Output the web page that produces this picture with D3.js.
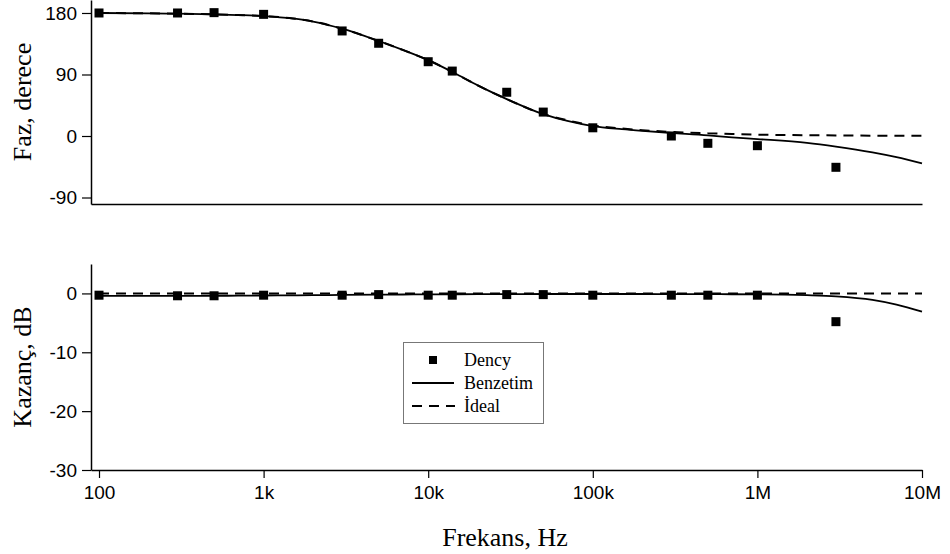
<!DOCTYPE html>
<html><head><meta charset="utf-8">
<script src="https://cdn.jsdelivr.net/npm/d3@7"></script>
<style>body{margin:0;background:#fff}svg{display:block}</style>
</head><body>
<svg id="c" width="950" height="554"></svg>
<script>
// ---- data ----
const deneyFreq  = [100, 300, 500, 1000, 3000, 5000, 10000, 14000, 30000, 50000, 100000, 300000, 500000, 1000000, 3000000];
const deneyPhase = [180, 180, 180.5, 178, 153.7, 135.7, 108.7, 95, 64, 35, 12, 0, -10.7, -14.2, -45.8];
const deneyGain  = [-0.3, -0.4, -0.4, -0.3, -0.3, -0.2, -0.3, -0.3, -0.2, -0.2, -0.3, -0.3, -0.3, -0.3, -4.8];

const simFreq  = [100, 200, 300, 500, 700, 1000, 1500, 2000, 3000, 5000, 7000, 10000, 15000, 20000, 30000, 50000, 70000, 100000, 150000, 200000, 300000, 500000, 700000, 1000000, 2000000, 3000000, 5000000, 7000000, 10000000];
const simPhase = [180, 179.5, 179, 178, 177, 175.5, 172, 167.5, 157, 139, 126, 111, 90, 74, 54, 32, 22, 14.5, 10, 7.5, 4.5, 1, -2, -4.5, -10, -15.5, -24, -31, -40];
const idealPhase = [180, 179.5, 179, 178, 177, 175.5, 172, 167.5, 157, 139, 126, 111, 90, 74, 54, 32, 23, 15.5, 11, 8.5, 6, 4, 3, 2, 1.2, 0.8, 0.5, 0.4, 0.3];
const simGain  = [-0.4, -0.4, -0.4, -0.4, -0.38, -0.35, -0.32, -0.3, -0.25, -0.2, -0.18, -0.15, -0.14, -0.13, -0.12, -0.1, -0.1, -0.1, -0.1, -0.1, -0.12, -0.13, -0.14, -0.15, -0.3, -0.5, -1.1, -1.9, -3.1];
const idealGain = [0, 0, 0, 0, 0, 0, 0, 0, 0, 0, 0, 0, 0, 0, 0, 0, 0, 0, 0, 0, 0, 0, 0, 0, 0, 0, 0, 0, 0];

const xTicks = [100, 1000, 10000, 100000, 1000000, 10000000];
const xTickLabels = ["100", "1k", "10k", "100k", "1M", "10M"];
const phaseTicks = [-90, 0, 90, 180];
const gainTicks = [-30, -20, -10, 0];

// ---- layout ----
const svg = d3.select("#c");
const x = d3.scaleLog().domain([89.4, 1e7]).range([91, 922]);
const yP = d3.scaleLinear().domain([-99.5, 199]).range([204, 0]);
const yG = d3.scaleLinear().domain([-30, 5]).range([470, 264]);

const tickFont = "'Liberation Sans', Arial, sans-serif";
const serif = "'Liberation Serif', 'Times New Roman', serif";

function panel(y, ticks, yvals, simVals, idealVals, showX) {
  const g = svg.append("g");
  // y axis
  const ya = g.append("g").attr("transform", "translate(91,0)")
    .call(d3.axisLeft(y).tickValues(ticks).tickFormat(d => String(d))
      .tickSize(9).tickPadding(5).tickSizeOuter(0));
  ya.select(".domain").attr("stroke", "#000").attr("stroke-width", 1.5);
  ya.selectAll(".tick line").attr("stroke-width", 1.2);
  ya.selectAll("text").attr("font-family", tickFont).attr("font-size", 19).attr("fill", "#000");
  // x axis
  const xa = g.append("g").attr("transform", `translate(0,${y.range()[0]})`)
    .call(d3.axisBottom(x).tickValues(showX ? xTicks : []).tickFormat((d, i) => xTickLabels[i])
      .tickSize(showX ? 8 : 0).tickPadding(8).tickSizeOuter(0));
  xa.select(".domain").attr("stroke", "#000").attr("stroke-width", 1.5);
  xa.selectAll(".tick line").attr("stroke-width", 1.2);
  xa.selectAll("text").attr("font-family", tickFont).attr("font-size", 19).attr("fill", "#000");

  const line = d3.line().x(d => x(d[0])).y(d => y(d[1])).curve(d3.curveMonotoneX);
  g.append("path").datum(simFreq.map((f, i) => [f, idealVals[i]]))
    .attr("d", line).attr("fill", "none").attr("stroke", "#000").attr("stroke-width", 2)
    .attr("stroke-dasharray", "10,7");
  g.append("path").datum(simFreq.map((f, i) => [f, simVals[i]]))
    .attr("d", line).attr("fill", "none").attr("stroke", "#000").attr("stroke-width", 1.8);
  g.selectAll("rect.pt").data(deneyFreq.map((f, i) => [f, yvals[i]])).enter()
    .append("rect").attr("class", "pt")
    .attr("x", d => x(d[0]) - 4.5).attr("y", d => y(d[1]) - 4.5)
    .attr("width", 9).attr("height", 9).attr("fill", "#000");
  return g;
}

panel(yP, phaseTicks, deneyPhase, simPhase, idealPhase, false);
panel(yG, gainTicks, deneyGain, simGain, idealGain, true);

// axis titles
svg.append("text").attr("transform", "translate(31,102) rotate(-90)")
  .attr("text-anchor", "middle").attr("font-family", serif).attr("font-size", 26).text("Faz, derece");
svg.append("text").attr("transform", "translate(31,367) rotate(-90)")
  .attr("text-anchor", "middle").attr("font-family", serif).attr("font-size", 26).text("Kazanç, dB");
svg.append("text").attr("x", 505).attr("y", 546)
  .attr("text-anchor", "middle").attr("font-family", serif).attr("font-size", 26).text("Frekans, Hz");

// legend
const lg = svg.append("g");
lg.append("rect").attr("x", 403.5).attr("y", 342.5).attr("width", 140).attr("height", 81)
  .attr("fill", "#fff").attr("stroke", "#777").attr("stroke-width", 1);
lg.append("rect").attr("x", 429).attr("y", 356).attr("width", 8).attr("height", 8).attr("fill", "#000");
lg.append("line").attr("x1", 412).attr("x2", 454).attr("y1", 383).attr("y2", 383)
  .attr("stroke", "#000").attr("stroke-width", 1.8);
lg.append("line").attr("x1", 412).attr("x2", 455).attr("y1", 406).attr("y2", 406)
  .attr("stroke", "#000").attr("stroke-width", 2).attr("stroke-dasharray", "10,7");
const labels = ["Dency", "Benzetim", "İdeal"];
lg.selectAll("text.l").data(labels).enter().append("text")
  .attr("x", 464).attr("y", (d, i) => 366 + i * 23)
  .attr("font-family", serif).attr("font-size", 18).text(d => d);
</script>
</body></html>
